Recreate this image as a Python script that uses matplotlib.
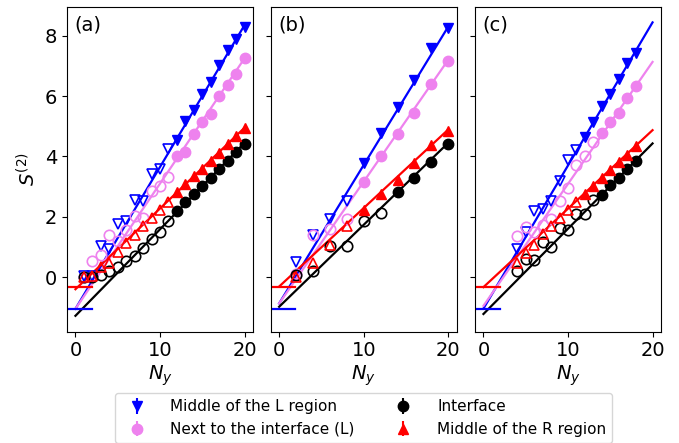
import numpy as np
import matplotlib
matplotlib.use("Agg")
import matplotlib.pyplot as plt

# ---------------- data ----------------
panel_labels = ["(a)", "(b)", "(c)"]
series_labels = ["Middle of the L region", "Next to the interface (L)",
                 "Interface", "Middle of the R region"]

# panel (a)
N_a = [1, 2, 3, 4, 5, 6, 7, 8, 9, 10, 11, 12, 13, 14, 15, 16, 17, 18, 19, 20]
blue_a = [0.05, 0.05, 1.02, 0.94, 1.77, 1.85, 2.57, 2.51, 3.42, 3.57, 4.24,
          4.56, 5.17, 5.53, 6.06, 6.45, 7.03, 7.52, 7.89, 8.30]
pink_a = [0.00, 0.52, 0.75, 1.39, 1.20, 1.57, 2.03, 1.96, 2.84, 3.02, 3.33,
          4.01, 4.15, 4.75, 5.15, 5.42, 6.00, 6.37, 6.73, 7.26]
black_a = [0.00, 0.02, 0.07, 0.22, 0.35, 0.54, 0.71, 0.98, 1.25, 1.50, 1.85,
           2.18, 2.48, 2.74, 3.01, 3.29, 3.57, 3.84, 4.14, 4.42]
red_a = [0.02, 0.05, 0.33, 0.46, 0.82, 1.13, 1.41, 1.68, 1.96, 2.24, 2.48,
         2.81, 3.10, 3.34, 3.59, 3.84, 4.12, 4.40, 4.67, 4.93]

# panel (b)
N_b = [2, 4, 6, 8, 10, 12, 14, 16, 18, 20]
blue_b = [0.50, 1.41, 1.93, 2.53, 3.77, 4.76, 5.64, 6.54, 7.58, 8.24]
pink_b = [0.10, 1.39, 1.58, 1.93, 3.15, 4.01, 4.73, 5.43, 6.39, 7.15]
black_b = [0.08, 0.19, 1.03, 1.02, 1.85, 2.13, 2.81, 3.27, 3.81, 4.42]
red_b = [0.02, 0.46, 1.07, 1.68, 2.24, 2.74, 3.21, 3.79, 4.37, 4.84]

# panel (c)
N_c = [4, 5, 6, 7, 8, 9, 10, 11, 12, 13, 14, 15, 16, 17, 18]
blue_c = [0.93, 1.48, 2.18, 2.25, 2.53, 3.19, 3.87, 4.20, 4.63, 5.13, 5.67,
          6.07, 6.55, 7.09, 7.43]
pink_c = [1.37, 1.66, 1.50, 1.74, 1.93, 2.53, 2.97, 3.70, 4.03, 4.48, 4.76,
          5.13, 5.45, 5.95, 6.32]
black_c = [0.19, 0.60, 0.58, 1.18, 1.01, 1.63, 1.55, 2.10, 2.10, 2.55, 2.71,
           3.05, 3.29, 3.57, 3.84]
red_c = [0.46, 0.80, 1.07, 1.42, 1.68, 1.96, 2.21, 2.49, 2.77, 3.01, 3.28,
         3.56, 3.81, 4.06, 4.34]

# first N drawn with filled markers (blue, pink, black, red)
fill_from_a = [12, 12, 12, 12]
fill_from_b = [10, 10, 14, 10]
fill_from_c = [12, 14, 14, 12]

# linear fits (intercept, slope) for blue, pink, black, red
fit_a = [(-1.05, 0.470), (-1.05, 0.415), (-1.28, 0.2865), (-0.40, 0.2675)]
fit_b = [(-0.87, 0.4585), (-0.87, 0.4035), (-0.98, 0.2715), (-0.31, 0.260)]
fit_c = [(-1.04, 0.474), (-0.95, 0.404), (-1.22, 0.2825), (-0.33, 0.260)]
fit_range = [0, 20]

# short reference levels (blue, red)
ref_levels = [-1.05, -0.33]
ref_x = [-1.0, 1.9]

colors = ["blue", "violet", "black", "red"]
markers = ["v", "o", "o", "^"]

panels = [
    (N_a, [blue_a, pink_a, black_a, red_a], fill_from_a, fit_a),
    (N_b, [blue_b, pink_b, black_b, red_b], fill_from_b, fit_b),
    (N_c, [blue_c, pink_c, black_c, red_c], fill_from_c, fit_c),
]

# ---------------- figure ----------------
fig = plt.figure(figsize=(6.79, 4.43), dpi=100)
W, H = 679.0, 443.0
lefts = [67, 270.7, 475]
aw = 186.0
bottom_px, top_px = 331.5, 7.0
axes = []
for i, lp in enumerate(lefts):
    ax = fig.add_axes([lp / W, 1 - bottom_px / H, aw / W, (bottom_px - top_px) / H])
    axes.append(ax)

fs = 14
handles = []
for pi, (ax, (N, ys, ff, fits)) in enumerate(zip(axes, panels)):
    N = np.asarray(N)
    for si in range(4):
        y = np.asarray(ys[si])
        c = colors[si]
        m = markers[si]
        op = N < ff[si]
        fl = ~op
        ax.plot(N[op], y[op], linestyle="none", marker=m, markersize=7.5,
                markerfacecolor="none", markeredgecolor=c, markeredgewidth=1.2,
                zorder=3)
        eb = ax.errorbar(N[fl], y[fl], yerr=np.zeros(fl.sum()), fmt=m,
                         color=c, markersize=7.5, elinewidth=1.5, zorder=3,
                         label=series_labels[si])
        if pi == 0:
            handles.append(eb)
        b, s = fits[si]
        xx = np.asarray(fit_range, dtype=float)
        ax.plot(xx, b + s * xx, color=c, lw=1.6, zorder=2)
    ax.plot(ref_x, [ref_levels[0]] * 2, color=colors[0], lw=1.6, zorder=2)
    ax.plot(ref_x, [ref_levels[1]] * 2, color=colors[3], lw=1.6, zorder=2)

    ax.set_xlim(-1, 21)
    ax.set_ylim(-1.8, 8.95)
    ax.set_xticks([0, 10, 20])
    ax.set_yticks([0, 2, 4, 6, 8])
    ax.tick_params(labelsize=fs)
    if pi > 0:
        ax.set_yticklabels([])
    ax.set_xlabel(r"$N_y$", fontsize=fs, labelpad=2)
    ax.text(0.04, 0.975, panel_labels[pi], transform=ax.transAxes,
            ha="left", va="top", fontsize=fs)

axes[0].set_ylabel(r"$S^{(2)}$", fontsize=fs, labelpad=4)

axes[1].legend(handles, series_labels, ncol=2, loc="upper center",
               bbox_to_anchor=(0.5, -0.19), fontsize=11, columnspacing=2.2,
               handletextpad=1.2, borderaxespad=0)

fig.savefig("out.png", dpi=100)
